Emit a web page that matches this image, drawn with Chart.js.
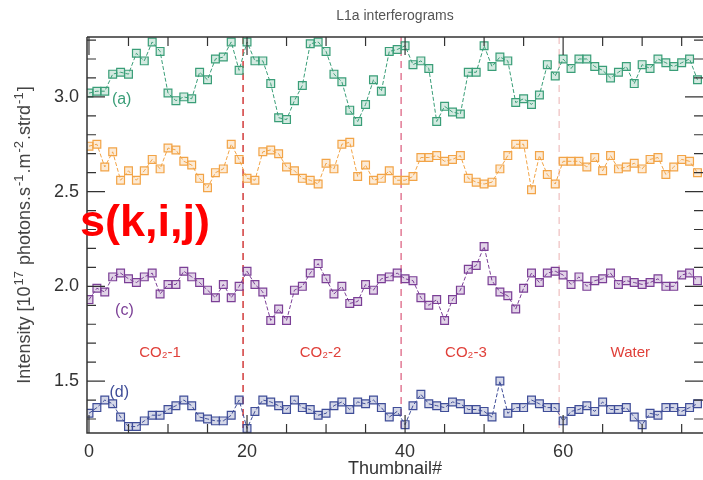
<!DOCTYPE html>
<html lang="en">
<head>
<meta charset="UTF-8">
<title>L1a interferograms</title>
<style>
  html, body { margin: 0; padding: 0; background: #fff; }
  #wrap { width: 703px; height: 480px; position: relative; }
</style>
</head>
<body>
<div id="wrap"><canvas id="myChart"></canvas></div>
<script src="https://cdn.jsdelivr.net/npm/chart.js"></script>
<script>
// Thumbnail index (x) and the four interferogram series
const thumbnails = Array.from({ length: 78 }, (_, i) => i);

const seriesA = [3.02, 3.03, 3.03, 3.12, 3.13, 3.12, 3.23, 3.19, 3.29, 3.24,
                 3.02, 2.98, 3.00, 2.99, 3.13, 3.09, 3.20, 3.21, 3.29, 3.14,
                 3.29, 3.19, 3.19, 3.07, 2.89, 2.88, 2.98, 3.06, 3.28, 3.29,
                 3.24, 3.12, 3.08, 2.93, 2.87, 2.96, 3.09, 3.03, 3.24, 3.25,
                 3.27, 3.17, 3.19, 3.15, 2.87, 2.95, 2.92, 2.91, 3.13, 3.13,
                 3.27, 3.16, 3.21, 3.19, 2.97, 2.99, 2.96, 3.01, 3.17, 3.11,
                 3.20, 3.15, 3.20, 3.20, 3.16, 3.14, 3.10, 3.13, 3.16, 3.07,
                 3.17, 3.15, 3.20, 3.18, 3.16, 3.18, 3.20, 3.09];

const seriesB = [2.74, 2.75, 2.63, 2.71, 2.56, 2.61, 2.56, 2.61, 2.67, 2.62,
                 2.73, 2.72, 2.66, 2.64, 2.57, 2.52, 2.60, 2.62, 2.75, 2.67,
                 2.57, 2.56, 2.71, 2.72, 2.70, 2.63, 2.61, 2.57, 2.56, 2.54,
                 2.65, 2.62, 2.75, 2.76, 2.58, 2.64, 2.56, 2.57, 2.61, 2.56,
                 2.56, 2.58, 2.68, 2.68, 2.69, 2.66, 2.67, 2.69, 2.57, 2.55,
                 2.54, 2.55, 2.62, 2.69, 2.75, 2.75, 2.51, 2.69, 2.59, 2.54,
                 2.66, 2.66, 2.66, 2.63, 2.68, 2.61, 2.69, 2.62, 2.63, 2.65,
                 2.62, 2.67, 2.68, 2.59, 2.63, 2.67, 2.66, 2.60];

const seriesC = [1.93, 1.99, 1.97, 2.05, 2.07, 2.04, 2.02, 2.05, 2.07, 1.96,
                 2.01, 2.01, 2.08, 2.05, 2.02, 1.98, 1.94, 2.01, 1.94, 2.00,
                 2.08, 2.01, 1.97, 1.82, 1.88, 1.82, 1.98, 2.00, 2.07, 2.12,
                 2.04, 1.96, 2.00, 1.91, 1.92, 2.01, 1.98, 2.04, 2.05, 2.07,
                 2.04, 2.03, 1.94, 1.90, 1.93, 1.82, 1.93, 1.98, 2.09, 2.11,
                 2.21, 2.03, 1.97, 1.95, 1.88, 1.99, 2.07, 2.02, 2.07, 2.08,
                 2.06, 2.01, 2.05, 2.00, 2.03, 2.04, 2.07, 2.01, 2.03, 2.02,
                 2.01, 2.02, 2.04, 2.00, 2.00, 2.06, 2.07, 2.03];

const seriesD = [1.33, 1.36, 1.40, 1.38, 1.31, 1.26, 1.26, 1.29, 1.32, 1.32,
                 1.35, 1.37, 1.40, 1.37, 1.31, 1.30, 1.29, 1.29, 1.32, 1.40,
                 1.25, 1.34, 1.40, 1.39, 1.37, 1.35, 1.40, 1.36, 1.35, 1.32,
                 1.33, 1.37, 1.39, 1.35, 1.39, 1.38, 1.40, 1.36, 1.31, 1.34,
                 1.27, 1.37, 1.43, 1.38, 1.37, 1.36, 1.39, 1.38, 1.35, 1.35,
                 1.34, 1.31, 1.50, 1.33, 1.36, 1.36, 1.40, 1.38, 1.36, 1.36,
                 1.29, 1.34, 1.35, 1.37, 1.34, 1.39, 1.35, 1.35, 1.36, 1.31,
                 1.27, 1.33, 1.32, 1.36, 1.36, 1.34, 1.36, 1.38];

const xTickLabels = [0, 20, 40, 60];
const yTickLabels = [1.5, 2.0, 2.5, 3.0];

// phase boundaries and their labels
const boundaries = [19.5, 39.5, 59.5];
const boundaryColors = ['#d23a3a', '#e27a95', '#f2cccc'];
const phaseNames = ['CO\u2082-1', 'CO\u2082-2', 'CO\u2082-3', 'Water'];
const phaseCenters = [9, 29.3, 47.7, 68.5];

const FONT = '"Liberation Sans", Arial, sans-serif';

function toPoints(arr) {
    return arr.map((v, i) => ({ x: thumbnails[i], y: v }));
}

function makeSet(label, arr, color, fill) {
    return {
        label: label,
        data: toPoints(arr),
        borderColor: color,
        backgroundColor: fill,
        borderWidth: 1,
        borderDash: [4, 2],
        pointStyle: 'rect',
        pointRadius: 5.5,
        pointBorderWidth: 1.2,
        pointBorderColor: color,
        pointBackgroundColor: fill,
        tension: 0
    };
}

// y title with real superscripts, drawn rotated
function drawYTitle(ctx, cx, cy) {
    const parts = [
        ['Intensity [10', false], ['17', true], [' photons.s', false], ['-1', true],
        ['.m', false], ['-2', true], ['.strd', false], ['-1', true], [']', false]
    ];
    const big = '18px ' + FONT, small = '13px ' + FONT;
    let total = 0;
    parts.forEach(p => { ctx.font = p[1] ? small : big; total += ctx.measureText(p[0]).width + (p[1] ? 2 : 0); });
    ctx.save();
    ctx.translate(cx, cy);
    ctx.rotate(-Math.PI / 2);
    ctx.fillStyle = '#444';
    ctx.textAlign = 'left';
    ctx.textBaseline = 'middle';
    let pos = -total / 2;
    parts.forEach(p => {
        ctx.font = p[1] ? small : big;
        if (p[1]) pos += 1;
        ctx.fillText(p[0], pos, p[1] ? -6 : 0);
        pos += ctx.measureText(p[0]).width + (p[1] ? 1 : 0);
    });
    ctx.restore();
}

// inward ticks, axes, boundary lines and text
const decor = {
    id: 'decor',
    beforeDatasetsDraw(chart) {
        const { ctx, chartArea: a, scales: { x } } = chart;
        ctx.save();
        ctx.lineWidth = 1.5;
        ctx.setLineDash([7, 5]);
        boundaries.forEach((b, i) => {
            const px = x.getPixelForValue(b);
            ctx.strokeStyle = boundaryColors[i];
            ctx.beginPath();
            ctx.moveTo(px, a.top);
            ctx.lineTo(px, a.bottom);
            ctx.stroke();
        });
        ctx.restore();
    },
    afterDatasetsDraw(chart) {
        const { ctx, chartArea: a, scales: { x, y } } = chart;
        ctx.save();
        ctx.strokeStyle = '#333';
        ctx.lineWidth = 1.5;
        ctx.beginPath();
        ctx.moveTo(a.left, a.top);
        ctx.lineTo(a.left, a.bottom);
        ctx.lineTo(a.right, a.bottom);
        ctx.moveTo(a.left, a.top);
        ctx.lineTo(a.right, a.top);
        ctx.stroke();

        ctx.lineWidth = 1.2;
        ctx.beginPath();
        for (let t = 0; t <= 75; t += 5) {
            const px = x.getPixelForValue(t);
            const len = (t % 20 === 0) ? 18 : 9;
            ctx.moveTo(px, a.bottom);
            ctx.lineTo(px, a.bottom - len);
            ctx.moveTo(px, a.top);
            ctx.lineTo(px, a.top + len);
        }
        for (let k = 13; k <= 33; k++) {
            const py = y.getPixelForValue(k / 10);
            const len = (k % 5 === 0) ? 18 : 9;
            ctx.moveTo(a.left, py);
            ctx.lineTo(a.left + len, py);
            ctx.moveTo(a.right, py);
            ctx.lineTo(a.right - len, py);
        }
        ctx.stroke();

        // title
        ctx.fillStyle = '#555';
        ctx.font = '14px ' + FONT;
        ctx.textAlign = 'center';
        ctx.textBaseline = 'middle';
        ctx.fillText('L1a interferograms', (a.left + a.right) / 2, 16);

        drawYTitle(ctx, 25, (a.top + a.bottom) / 2);

        // series tags
        ctx.font = '16px ' + FONT;
        ctx.textAlign = 'left';
        ctx.fillStyle = '#3a9e78';
        ctx.fillText('(a)', x.getPixelForValue(2.9), y.getPixelForValue(2.985));
        ctx.fillStyle = '#7b3f96';
        ctx.fillText('(c)', x.getPixelForValue(3.3), y.getPixelForValue(1.87));
        ctx.fillStyle = '#3f4d98';
        ctx.fillText('(d)', x.getPixelForValue(2.6), y.getPixelForValue(1.44));

        // phase names
        ctx.fillStyle = '#e0403a';
        ctx.font = '15px ' + FONT;
        ctx.textAlign = 'center';
        phaseNames.forEach((n, i) => {
            ctx.fillText(n, x.getPixelForValue(phaseCenters[i]), y.getPixelForValue(1.65));
        });

        // overlay label
        ctx.fillStyle = '#ff0000';
        ctx.font = 'bold 45px ' + FONT;
        ctx.textAlign = 'left';
        ctx.textBaseline = 'alphabetic';
        ctx.fillText('s(k,i,j)', 80, 236);
        ctx.restore();
    }
};

const ctx = document.getElementById('myChart').getContext('2d');
new Chart(ctx, {
    type: 'line',
    data: {
        datasets: [
            makeSet('(a)', seriesA, '#3a9e78', 'rgba(58,158,120,0.22)'),
            makeSet('(b)', seriesB, '#f2a447', 'rgba(242,164,71,0.22)'),
            makeSet('(c)', seriesC, '#7b3f96', 'rgba(123,63,150,0.22)'),
            makeSet('(d)', seriesD, '#3f4d98', 'rgba(63,77,152,0.22)')
        ]
    },
    options: {
        responsive: true,
        maintainAspectRatio: false,
        animation: false,
        layout: { autoPadding: false, padding: { top: 37, right: 0, left: 0, bottom: 0 } },
        plugins: {
            legend: { display: false },
            tooltip: { enabled: false }
        },
        scales: {
            x: {
                type: 'linear',
                min: -0.25,
                max: 77.7,
                grid: { display: false },
                border: { display: false },
                afterBuildTicks: (s) => { s.ticks = xTickLabels.map(v => ({ value: v })); },
                afterFit: (s) => { s.height = 47; s.paddingRight = 0; s.paddingLeft = 0; },
                ticks: {
                    color: '#333',
                    padding: 0,
                    maxRotation: 0,
                    font: { family: FONT, size: 18 }
                },
                title: {
                    display: true,
                    text: 'Thumbnail#',
                    color: '#333',
                    padding: { top: -4, bottom: 0 },
                    font: { family: FONT, size: 18 }
                }
            },
            y: {
                min: 1.226,
                max: 3.316,
                grid: { display: false },
                border: { display: false },
                afterBuildTicks: (s) => { s.ticks = yTickLabels.map(v => ({ value: v })); },
                afterFit: (s) => { s.width = 87; s.paddingTop = 0; s.paddingBottom = 0; },
                ticks: {
                    color: '#333',
                    padding: 0,
                    callback: (v) => v.toFixed(1),
                    font: { family: FONT, size: 18 }
                }
            }
        }
    },
    plugins: [decor]
});
</script>
</body>
</html>
